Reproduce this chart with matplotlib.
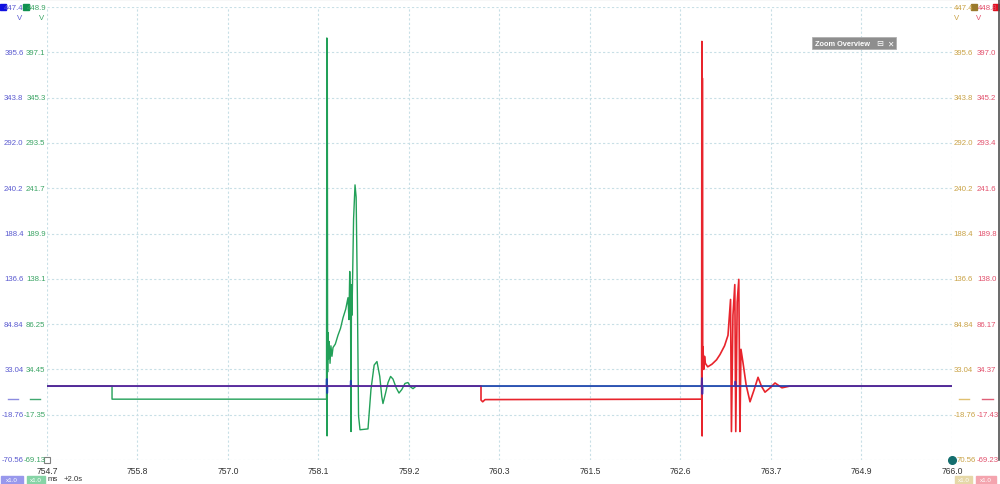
import matplotlib
matplotlib.use('Agg')
import matplotlib.pyplot as plt
from matplotlib import transforms
from matplotlib.patches import Rectangle

plt.rcParams['font.family'] = ['Liberation Sans', 'DejaVu Sans']

# time axis (ms) and tick labels
x_ticks = [754.7, 755.83, 756.96, 758.09, 759.22, 760.35, 761.48, 762.61, 763.74, 764.87, 766.0]
x_labels = ['754.7', '755.8', '757.0', '758.1', '759.2', '760.3', '761.5', '762.6', '763.7', '764.9', '766.0']

# vertical grid levels (V, channel A scale) and per-channel labels
y_levels = [-70.56, -18.76, 33.04, 84.84, 136.6, 188.4, 240.2, 292.0, 343.8, 395.6, 447.4]
lab_blue = ['-70.56', '-18.76', '33.04', '84.84', '136.6', '188.4', '240.2', '292.0', '343.8', '395.6']
lab_green = ['-69.13', '-17.35', '34.45', '86.25', '138.1', '189.9', '241.7', '293.5', '345.3', '397.1']
lab_yellow = ['70.56', '-18.76', '33.04', '84.84', '136.6', '188.4', '240.2', '292.0', '343.8', '395.6']
lab_red = ['-69.23', '-17.43', '34.37', '86.17', '138.0', '189.8', '241.6', '293.4', '345.2', '397.0']

# channel traces (ms, V)
green_t = [754.70, 755.512, 755.512, 758.190, 758.194, 758.197, 758.200, 758.204, 758.209, 758.215,
           758.222, 758.234, 758.245, 758.258, 758.271, 758.300, 758.333, 758.365, 758.396, 758.430,
           758.458, 758.470, 758.480, 758.490, 758.496, 758.502, 758.508, 758.528, 758.546, 758.560,
           758.575, 758.590, 758.608, 758.708, 758.745, 758.785, 758.820, 758.855, 758.880, 758.895,
           758.925, 758.958, 758.990, 759.020, 759.060, 759.095, 759.130, 759.170, 759.207, 759.240,
           759.270, 759.310, 766.0]
green_v = [14, 14, -1, -1, 412, -43, 377, 30, 75, 45,
           65, 40, 60, 48, 58, 62, 72, 80, 92, 102,
           115, 90, 145, 105, -38, 130, 95, 205, 244, 230,
           120, -20, -36, -35, 10, 38, 42, 25, 2, -6,
           5, 18, 25, 22, 12, 6, 10, 17, 18, 13,
           11, 14, 14]

red_t = [754.70, 760.119, 760.119, 760.14, 760.17, 762.874, 762.877, 762.880, 762.883, 762.887,
         762.891, 762.900, 762.910, 762.920, 762.950, 763.003, 763.060, 763.103, 763.160, 763.203,
         763.235, 763.246, 763.265, 763.288, 763.300, 763.318, 763.338, 763.352, 763.365, 763.390,
         763.430, 763.478, 763.530, 763.578, 763.620, 763.665, 763.730, 763.790, 763.877, 763.977,
         766.0]
red_v = [14, 14, -2, -4, -1.5, -1, 408, -43, 366, 40,
         59, 33, 48, 40, 36, 39, 44, 50, 60, 72,
         113, -38, 95, 130, -38, 110, 136, -38, 56, 41,
         15, -4, 10, 24, 14, 7, 12, 17.5, 12, 14,
         14]

blue_t = [754.70, 758.190, 758.194, 758.198, 758.202, 758.490, 758.494, 758.498, 762.874, 762.878,
          762.882, 762.886, 763.290, 763.294, 763.298, 766.0]
blue_v = [14, 14, 22, 6, 14, 14, 20, 14, 14, 23,
          5, 14, 14, 19, 14, 14]

fs = 5.6

fig = plt.figure(figsize=(10, 4.85), dpi=100)
ax = fig.add_axes([0.047, 1 - 461 / 485, 0.905, 453 / 485])
ax.set_xlim(754.7, 766.0)
ax.set_ylim(-70.56, 447.4)
for s in ax.spines.values():
    s.set_visible(False)
ax.set_xticks(x_ticks)
ax.set_xticklabels(x_labels, fontsize=6.2, color='#333333')
ax.set_yticks(y_levels)
ax.set_yticklabels([])
ax.tick_params(length=0, pad=4)
ax.grid(True, linestyle=(0, (2, 2)), color='#c8dfe6', linewidth=0.8)
ax.set_axisbelow(True)

ax.plot(green_t, green_v, color='#22a058', lw=1.0, zorder=2)
ax.plot(red_t, red_v, color='#e8242c', lw=1.2, zorder=3)
ax.plot(blue_t, blue_v, color='#1a28c8', lw=1.4, alpha=0.7, zorder=4)

# channel scale labels
tr = transforms.blended_transform_factory(fig.transFigure, ax.transData)
for i in range(10):
    y = y_levels[i]
    fig.text(0.0235, y, lab_blue[i], transform=tr, ha='right', va='center', fontsize=fs, color='#5a5ad0')
    fig.text(0.0455, y, lab_green[i], transform=tr, ha='right', va='center', fontsize=fs, color='#3aa464')
    xy = 0.957 if i == 0 else 0.9535
    fig.text(xy, y, lab_yellow[i], transform=tr, ha='left', va='center', fontsize=fs, color='#c9a245')
    fig.text(0.977, y, lab_red[i], transform=tr, ha='left', va='center', fontsize=fs, color='#e2506c')

# ground markers
fig.add_artist(plt.Line2D([0.008, 0.018], [1 - 400 / 485] * 2, color='#8c8ce0', lw=1))
fig.add_artist(plt.Line2D([0.030, 0.040], [1 - 400 / 485] * 2, color='#40a870', lw=1))
fig.add_artist(plt.Line2D([0.959, 0.969], [1 - 400 / 485] * 2, color='#e0c070', lw=1))
fig.add_artist(plt.Line2D([0.982, 0.993], [1 - 400 / 485] * 2, color='#e06078', lw=1))

# header: channel max values and units
fig.text(0.004, 1 - 8 / 485, '447.4', fontsize=fs, color='#5a5ad0', va='center')
fig.add_artist(Rectangle((0.0, 1 - 11 / 485), 0.006, 6 / 485, color='#1010e0'))
fig.text(0.027, 1 - 8 / 485, '448.9', fontsize=fs, color='#3aa464', va='center')
fig.add_artist(Rectangle((0.023, 1 - 11 / 485), 0.006, 6 / 485, color='#109050'))
fig.text(0.020, 1 - 19 / 485, 'V', fontsize=fs, color='#5a5ad0', va='center', ha='center')
fig.text(0.042, 1 - 19 / 485, 'V', fontsize=fs, color='#3aa464', va='center', ha='center')
fig.text(0.9535, 1 - 8 / 485, '447.4', fontsize=fs, color='#c9a245', va='center')
fig.add_artist(Rectangle((0.971, 1 - 11 / 485), 0.006, 6 / 485, color='#9a7a2c'))
fig.text(0.978, 1 - 8 / 485, '448.8', fontsize=fs, color='#e2506c', va='center')
fig.add_artist(Rectangle((0.993, 1 - 11 / 485), 0.007, 6 / 485, color='#e01020'))
fig.text(0.957, 1 - 19 / 485, 'V', fontsize=fs, color='#c9a245', va='center', ha='center')
fig.text(0.979, 1 - 19 / 485, 'V', fontsize=fs, color='#e2506c', va='center', ha='center')

# window frame lines
fig.add_artist(plt.Line2D([0, 1], [0.999, 0.999], color='#505050', lw=1.5))
fig.add_artist(plt.Line2D([0.999, 0.999], [0.05, 1], color='#505050', lw=1.2))

# cursors at the ends of the time axis
ax.plot([754.7], [-70.56], marker='s', ms=4, mfc='white', mec='#808080', mew=0.8, clip_on=False, zorder=5)
ax.plot([766.0], [-70.56], marker='o', ms=5.5, color='#146e6e', clip_on=False, zorder=5)

# zoom overview button
fig.add_artist(Rectangle((0.812, 1 - 50 / 485), 0.084, 12 / 485, facecolor='#8e8e8e', edgecolor='#b0b0b0', lw=0.6))
fig.text(0.815, 1 - 44 / 485, 'Zoom Overview', fontsize=5.3, color='white', fontweight='bold', va='center')
fig.text(0.876, 1 - 44 / 485, '\u229f', fontsize=6, color='white', va='center', family='DejaVu Sans')
fig.text(0.887, 1 - 44 / 485, '\u2715', fontsize=5.5, color='white', va='center', family='DejaVu Sans')

# bottom badges
for x0, w, col in [(0.001, 0.022, '#9898ec'), (0.027, 0.018, '#86d4a6'), (0.955, 0.017, '#e6d8a8'), (0.976, 0.020, '#f4a4ae')]:
    fig.add_artist(Rectangle((x0, 0), w, 8 / 485, color=col))
    fig.text(x0 + w / 2, 1 - 481 / 485, 'x1.0', fontsize=4.5, color='white', ha='center', va='center')
fig.text(0.048, 1 - 480 / 485, 'ms', fontsize=fs, color='#333333', va='center')
fig.text(0.064, 1 - 480 / 485, '+2.0s', fontsize=fs, color='#333333', va='center')

fig.savefig('out.png', dpi=100)
